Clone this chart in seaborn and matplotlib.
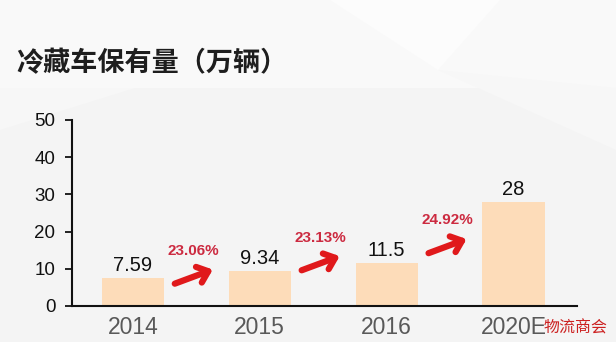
import matplotlib
matplotlib.use("Agg")
import matplotlib.pyplot as plt
from matplotlib.patches import Polygon
import seaborn as sns
import pandas as pd

# ---- data ----
years = ["2014", "2015", "2016", "2020E"]
values = [7.59, 9.34, 11.5, 28]
value_labels = ["7.59", "9.34", "11.5", "28"]
growth_labels = ["23.06%", "23.13%", "24.92%"]
y_ticks = [0, 10, 20, 30, 40, 50]
title = "冷藏车保有量（万辆）"
watermark = "物流商会"

sns.set_theme(style="white")
plt.rcParams["font.family"] = ["Liberation Sans", "Noto Sans CJK SC", "DejaVu Sans"]

fig = plt.figure(figsize=(6.16, 3.42), dpi=100)
fig.patch.set_facecolor("#f4f4f4")

# subtle background shapes
bg = fig.add_axes([0, 0, 1, 1], zorder=-10)
bg.set_xlim(0, 616)
bg.set_ylim(342, 0)
bg.axis("off")
bg.add_patch(Polygon([[0, 0], [616, 0], [616, 88], [0, 88]], closed=True, color="#f9f9f9", lw=0))
bg.add_patch(Polygon([[0, 88], [135, 88], [0, 130]], closed=True, color="#f7f7f7", lw=0))
bg.add_patch(Polygon([[330, 0], [500, 0], [438, 70]], closed=True, color="#fcfcfc", lw=0))
bg.add_patch(Polygon([[438, 70], [616, 88], [616, 150]], closed=True, color="#f7f7f7", lw=0))

ax = fig.add_axes([72 / 616, 1 - 306 / 342, (577 - 72) / 616, (306 - 120) / 342])
ax.set_facecolor("none")

df = pd.DataFrame({"year": years, "value": values})
sns.barplot(data=df, x="year", y="value", color="#fddcb9", saturation=1,
            width=0.49, linewidth=0, edgecolor="none", ax=ax, zorder=2)

ax.set_xlim(-0.48, 3.5)
ax.set_ylim(0, 50)
ax.set_yticks(y_ticks)
ax.set_xlabel("")
ax.set_ylabel("")

for s in ["top", "right"]:
    ax.spines[s].set_visible(False)
for s in ["left", "bottom"]:
    ax.spines[s].set_color("#111111")
    ax.spines[s].set_linewidth(1.5)

ax.tick_params(axis="y", which="major", left=True, length=5, width=1.3,
               color="#111111", labelsize=13.5, labelcolor="#111111", pad=7)
ax.tick_params(axis="x", bottom=False, labelsize=16.5, labelcolor="#595959", pad=1)

# value labels
ax.bar_label(ax.containers[0], labels=value_labels, padding=2, fontsize=14.5,
             color="#111111")

# growth arrows and labels between bars
arrow_dx = (0.33, 0.63)
arrow_tail_y = [6.0, 9.6, 14.2]
arrow_rise = 3.8
label_offset = 8.8
for i, g in enumerate(growth_labels):
    x0 = i + arrow_dx[0]
    x1 = i + arrow_dx[1]
    y0 = arrow_tail_y[i]
    y1 = y0 + arrow_rise
    ax.annotate("", xy=(x1, y1), xytext=(x0, y0),
                arrowprops=dict(arrowstyle="->,head_length=0.6,head_width=0.5",
                                lw=4.5, color="#e0191b", shrinkA=0, shrinkB=0),
                zorder=3)
    ax.text(i + 0.48, y0 + label_offset, g, ha="center", va="center",
            fontsize=11, fontweight="bold", color="#cc2a40", zorder=3)

fig.text(0.026, 1 - 63 / 342, title, ha="left", va="center", fontsize=19.5,
         fontweight="bold", color="#1e1e1e",
         family=["Noto Sans CJK SC", "DejaVu Sans"])

fig.text(608 / 616, 1 - 328 / 342, watermark, ha="right", va="center",
         fontsize=11.5, color="#cc2020",
         family=["Noto Sans CJK SC", "DejaVu Sans"])

fig.savefig("out.png", dpi=100, facecolor=fig.get_facecolor())
